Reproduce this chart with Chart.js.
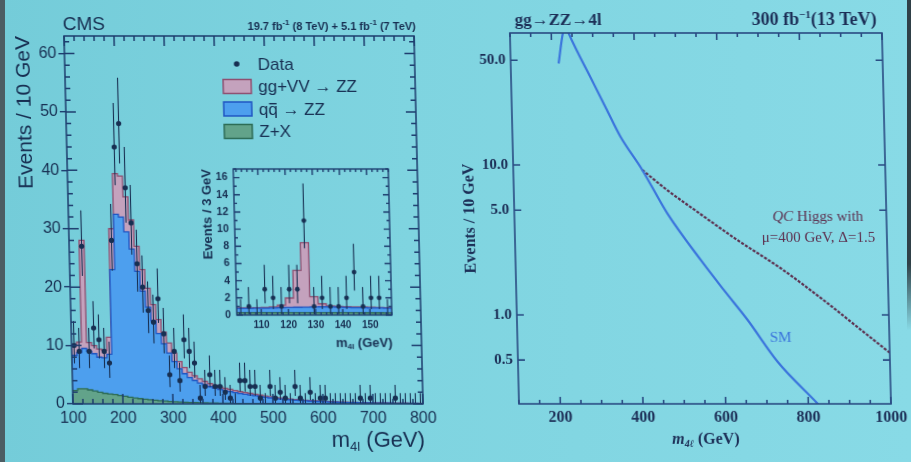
<!DOCTYPE html>
<html>
<head>
<meta charset="utf-8">
<title>Four-lepton mass spectra</title>
<script src="https://cdn.jsdelivr.net/npm/chart.js@4.4.1/dist/chart.umd.min.js"></script>
<style>
  html, body { margin: 0; padding: 0; }
  body {
    width: 911px; height: 462px; overflow: hidden; position: relative;
    background: linear-gradient(90deg, #74ccd9 0%, #7fd4e0 45%, #88dae6 100%);
  }
  /* the slide was photographed slightly sheared */
  #slide { position: absolute; left: 0; top: 0; width: 911px; height: 462px;
    transform: skewX(1.4deg); transform-origin: 0 404px; }
  #slide canvas { position: absolute; }
  .edge { position: absolute; top: 0; }
</style>
</head>
<body>
<div id="slide">
  <canvas id="main" width="450" height="462" style="left:0;top:0"></canvas>
  <canvas id="inset" width="200" height="205" style="left:198px;top:150px"></canvas>
  <canvas id="qc" width="456" height="462" style="left:455px;top:0"></canvas>
</div>
<div class="edge" style="left:0;width:5px;height:462px;background:#4c5d63"></div>
<div class="edge" style="right:0;width:4px;height:330px;background:linear-gradient(#2f4047 80%, rgba(47,64,71,0))"></div>
<script>
// ---------- left plot: CMS m4l, 10 GeV bins from 100 to 800 ----------
const massLo = 100, massHi = 800, massBin = 10;
const zzData = [
  10, 9, 27, 9, 13, 11, 9, 7, 28, 44,
  48, 37, 31, 24, 20, 16, 14, 18, 12, 5,
  9, 4, 11, 9, 7, 1, 3, 5, 3, 3,
  2, 1, 0, 4, 4, 3, 3, 1, 0, 3,
  1, 2, 1, 0, 3, 1, 0, 2, 0, 1,
  1, 0, 0, 0, 0, 0, 0, 1, 0, 1,
  0, 0, 0, 0, 1, 0, 0, 0, 0, 0];
const ggVV = [
  1.9, 1.8, 18.5, 1.5, 1.4, 1.4, 1.3, 2.9, 7.0, 7.0,
  7.0, 6.0, 5.0, 4.3, 3.7, 3.2, 2.8, 2.4, 2.0, 1.7,
  1.45, 1.25, 1.05, 0.9, 0.8, 0.7, 0.62, 0.55, 0.5, 0.45,
  0.4, 0.38, 0.35, 0.32, 0.3, 0.27, 0.25, 0.23, 0.21, 0.19,
  0.17, 0.15, 0.14, 0.13, 0.12, 0.11, 0.1, 0.09, 0.08, 0.08,
  0.07, 0.06, 0.06, 0.05, 0.05, 0.05, 0.04, 0.04, 0.04, 0.03,
  0.03, 0.03, 0.03, 0.03, 0.03, 0.02, 0.02, 0.02, 0.02, 0.02];
const qqZZ = [
  6.0, 6.2, 6.9, 6.6, 6.4, 6.0, 6.1, 6.8, 21.4, 31.0,
  30.7, 28.3, 25.5, 21.8, 18.5, 15.9, 13.6, 11.5, 9.8, 8.3,
  6.9, 5.7, 4.9, 4.25, 3.8, 3.4, 3.1, 2.8, 2.55, 2.33,
  2.15, 2.03, 1.87, 1.71, 1.58, 1.47, 1.34, 1.22, 1.09, 0.98,
  0.89, 0.81, 0.72, 0.66, 0.60, 0.54, 0.49, 0.44, 0.41, 0.37,
  0.34, 0.31, 0.28, 0.26, 0.23, 0.22, 0.21, 0.19, 0.17, 0.16,
  0.15, 0.14, 0.13, 0.12, 0.11, 0.11, 0.10, 0.09, 0.08, 0.07];
const zPlusX = [
  2.3, 2.6, 2.6, 2.4, 2.2, 2.0, 1.8, 1.7, 1.6, 1.45,
  1.3, 1.15, 1.0, 0.9, 0.8, 0.7, 0.62, 0.55, 0.48, 0.42,
  0.37, 0.32, 0.28, 0.25, 0.22, 0.19, 0.17, 0.15, 0.13, 0.12,
  0.1, 0.09, 0.08, 0.07, 0.07, 0.06, 0.06, 0.05, 0.05, 0.05,
  0.04, 0.04, 0.04, 0.03, 0.03, 0.03, 0.03, 0.03, 0.02, 0.02,
  0.02, 0.02, 0.02, 0.02, 0.02, 0.01, 0.01, 0.01, 0.01, 0.01,
  0.01, 0.01, 0.01, 0.01, 0.01, 0.01, 0.01, 0.01, 0.01, 0.01];
const mainXTicks = [100, 200, 300, 400, 500, 600, 700, 800];
const mainYTicks = [0, 10, 20, 30, 40, 50, 60];

// inset: 3 GeV bins around the Higgs peak
const insetLo = 101, insetHi = 158, insetBin = 3;
const insetData = [0, 1, 0, 3, 2, 1, 3, 3, 11, 1, 2, 1, 1, 2, 5, 1, 2, 2, 0];
const insetGG = [0.06, 0.06, 0.06, 0.07, 0.1, 0.3, 1.1, 4.3, 7.5, 1.2, 0.35, 0.12, 0.08, 0.07, 0.07, 0.07, 0.06, 0.06, 0.06];
const insetQQ = [0.5, 0.5, 0.52, 0.53, 0.55, 0.57, 0.6, 0.62, 0.64, 0.66, 0.68, 0.66, 0.64, 0.62, 0.6, 0.6, 0.58, 0.57, 0.56];
const insetZX = [0.28, 0.28, 0.28, 0.28, 0.28, 0.28, 0.28, 0.28, 0.28, 0.28, 0.28, 0.28, 0.27, 0.27, 0.27, 0.26, 0.26, 0.26, 0.25];
const insetXTicks = [110, 120, 130, 140, 150];
const insetYTicks = [0, 2, 4, 6, 8, 10, 12, 14, 16];

// ---------- right plot: gg -> ZZ -> 4l, 300 fb-1 at 13 TeV ----------
const smMass   = [216, 228, 235, 242, 299, 330, 361, 412, 470, 548, 602, 658, 728, 826, 850];
const smEvents = [47.6, 75.6, 85, 75.6, 35.2, 23.3, 15.5, 9.28, 4.76, 2.33, 1.47, 0.926, 0.488, 0.25, 0.21];
const qcMass   = [412, 471, 542, 638, 741, 852, 932, 1000];
const qcEvents = [9.28, 6.81, 4.89, 3.16, 2.05, 1.2, 0.794, 0.56];
const qcXTicks = [200, 400, 600, 800, 1000];
const qcYTicks = [0.5, 1, 5, 10, 50];
const qcNote = { x: 834, y1: 4.5, y2: 3.26 };
const smNote = { x: 737, y: 0.70 };

const NAVY = '#172f52';
const FRAME = '#1d3c6e';
const SANS = '"Liberation Sans", Arial, sans-serif';
const SERIF = '"Liberation Serif", "Times New Roman", serif';
const GG_FILL = '#c4a2bd', GG_LINE = '#8e4f70';
const QQ_FILL = '#4d9fee', QQ_LINE = '#1f55c2';
const ZX_FILL = '#62a38a', ZX_LINE = '#2c6b55';

function lowEdges(start, width, n) {
  const e = [];
  for (let i = 0; i < n; i++) e.push(start + i * width);
  return e;
}
// bin contents -> step points (lower edges + closing edge)
function steps(edges, vals, width) {
  const pts = vals.map((v, i) => ({ x: edges[i], y: v }));
  pts.push({ x: edges[edges.length - 1] + width, y: vals[vals.length - 1] });
  return pts;
}
function histSet(label, vals, edges, width, fill, line, fillTo) {
  return { label, data: steps(edges, vals, width), stepped: 'before', fill: fillTo,
    backgroundColor: fill, borderColor: line, borderWidth: 1.3, pointRadius: 0 };
}
function dataSet(vals, edges, width, r) {
  return { label: 'Data', data: vals.map((v, i) => ({ x: edges[i] + width / 2, y: v })),
    showLine: false, fill: false, stack: 'data', order: -1, errorBars: true,
    pointRadius: c => (c.raw && c.raw.y > 0 ? r : 0), pointBackgroundColor: NAVY,
    pointBorderWidth: 0, borderColor: NAVY };
}

// draw a run of text pieces with their own fonts and offsets
function rich(ctx, parts, x, y, align) {
  let total = 0;
  parts.forEach(p => { ctx.font = p.font; p.w = ctx.measureText(p.t).width; total += p.w; });
  let cx = align === 'right' ? x - total : align === 'center' ? x - total / 2 : x;
  ctx.textAlign = 'left';
  parts.forEach(p => {
    ctx.font = p.font;
    ctx.fillText(p.t, cx, y + (p.dy || 0));
    if (p.bar) ctx.fillRect(cx + 1, y - p.bar, p.w - 2, 1.4);
    cx += p.w;
  });
}

// Poisson-style error bars on the data points
const errorBars = {
  id: 'errorBars',
  beforeDatasetDraw(chart, args) {
    const ds = chart.data.datasets[args.index];
    if (!ds.errorBars) return;
    const { ctx, scales: { y } } = chart;
    ctx.save();
    ctx.strokeStyle = NAVY;
    ctx.lineWidth = 1.1;
    ctx.beginPath();
    args.meta.data.forEach((pt, i) => {
      const n = ds.data[i].y;
      const lo = n > 0 ? n - Math.sqrt(n) + 0.1 : 0;
      const hi = n + 0.84 + Math.sqrt(n + 1);
      ctx.moveTo(pt.x, y.getPixelForValue(lo));
      ctx.lineTo(pt.x, y.getPixelForValue(hi));
    });
    ctx.stroke();
    ctx.restore();
  }
};

// box around the plot with inward tick marks on all sides
function framePlugin(o) {
  return {
    id: 'frame',
    afterDatasetsDraw(chart) {
      const { ctx, chartArea: a, scales: { x, y } } = chart;
      const isMajor = (v, m) => Math.abs(v / m - Math.round(v / m)) < 1e-6;
      ctx.save();
      ctx.strokeStyle = o.color;
      ctx.lineWidth = o.width;
      ctx.beginPath();
      for (let v = Math.ceil(x.min / o.xStep) * o.xStep; v <= x.max + 1e-9; v += o.xStep) {
        const len = isMajor(v, o.xMajor) ? o.majLen : o.minLen;
        const p = x.getPixelForValue(v);
        ctx.moveTo(p, a.bottom); ctx.lineTo(p, a.bottom - len);
        ctx.moveTo(p, a.top); ctx.lineTo(p, a.top + len);
      }
      const yVals = [];
      if (o.yList) o.yList.forEach(v => yVals.push([v, o.majLen]));
      else for (let v = Math.ceil(y.min / o.yStep) * o.yStep; v <= y.max + 1e-9; v += o.yStep)
        yVals.push([v, isMajor(v, o.yMajor) ? o.majLen : o.minLen]);
      yVals.forEach(([v, len]) => {
        const p = y.getPixelForValue(v);
        ctx.moveTo(a.left, p); ctx.lineTo(a.left + len, p);
        ctx.moveTo(a.right, p); ctx.lineTo(a.right - len, p);
      });
      ctx.stroke();
      ctx.strokeRect(a.left, a.top, a.right - a.left, a.bottom - a.top);
      ctx.restore();
    }
  };
}

const fixTicks = list => s => { s.ticks = list.map(v => ({ value: v })); };
const noGrid = { display: false, drawTicks: false };
const baseOpts = { responsive: false, devicePixelRatio: 1, animation: false, events: [],
  plugins: { legend: { display: false }, tooltip: { enabled: false } } };

// ---------- main CMS histogram ----------
const massEdges = lowEdges(massLo, massBin, zzData.length);
const mainText = {
  id: 'mainText',
  afterDraw(chart) {
    const { ctx, chartArea: a } = chart;
    const ds = chart.data.datasets;
    ctx.save();
    ctx.fillStyle = NAVY;
    ctx.textBaseline = 'alphabetic';
    ctx.textAlign = 'left';
    ctx.font = `19px ${SANS}`;
    ctx.fillText('CMS', a.left - 1, a.top - 6);
    const lf = `bold 11px ${SANS}`, sf = `bold 8px ${SANS}`;
    rich(ctx, [
      { t: '19.7 fb', font: lf }, { t: '-1', font: sf, dy: -5 },
      { t: ' (8 TeV) + 5.1 fb', font: lf }, { t: '-1', font: sf, dy: -5 },
      { t: ' (7 TeV)', font: lf }], a.right + 2, a.top - 6, 'right');

    // legend
    const lx = a.left + 158, ly = a.top + 28, f = `17px ${SANS}`;
    ctx.textBaseline = 'middle';
    ctx.beginPath();
    ctx.arc(lx + 14, ly, 2.8, 0, 2 * Math.PI);
    ctx.fill();
    rich(ctx, [{ t: 'Data', font: f }], lx + 35, ly + 1, 'left');
    const rows = [
      [ds[2], [{ t: 'gg+VV → ZZ', font: f }]],
      [ds[1], [{ t: 'q', font: f }, { t: 'q', font: f, bar: 7 }, { t: ' → ZZ', font: f }]],
      [ds[0], [{ t: 'Z+X', font: f }]]];
    rows.forEach(([d, parts], i) => {
      const yy = ly + 22.5 * (i + 1);
      ctx.fillStyle = d.backgroundColor;
      ctx.fillRect(lx, yy - 7, 28, 14);
      ctx.strokeStyle = d.borderColor;
      ctx.lineWidth = 1.5;
      ctx.strokeRect(lx, yy - 7, 28, 14);
      ctx.fillStyle = NAVY;
      rich(ctx, parts, lx + 35, yy + 1, 'left');
    });

    rich(ctx, [{ t: 'm', font: `22px ${SANS}` }, { t: '4l', font: `13px ${SANS}`, dy: 6 },
      { t: ' (GeV)', font: `22px ${SANS}` }], a.right + 1, a.bottom + 37, 'right');
    ctx.restore();
  }
};

new Chart(document.getElementById('main'), {
  type: 'line',
  data: { datasets: [
    histSet('Z+X', zPlusX, massEdges, massBin, ZX_FILL, ZX_LINE, 'origin'),
    histSet('qq̄ → ZZ', qqZZ, massEdges, massBin, QQ_FILL, QQ_LINE, '-1'),
    histSet('gg+VV → ZZ', ggVV, massEdges, massBin, GG_FILL, GG_LINE, '-1'),
    dataSet(zzData, massEdges, massBin, 2.6)
  ] },
  options: Object.assign({}, baseOpts, {
    layout: { padding: { left: 0, right: 27, top: 36, bottom: 0 } },
    scales: {
      x: { type: 'linear', min: massLo, max: massHi,
        afterBuildTicks: fixTicks(mainXTicks), afterFit: s => { s.height = 58; },
        grid: noGrid, border: { display: false },
        ticks: { color: NAVY, font: { family: SANS, size: 16 }, padding: 5, maxRotation: 0, autoSkip: false,
          callback: v => String(v) } },
      y: { stacked: true, min: 0, max: 63,
        afterBuildTicks: fixTicks(mainYTicks), afterFit: s => { s.width = 73; },
        grid: { display: true, drawOnChartArea: false, drawTicks: true, tickLength: 6, color: FRAME, lineWidth: 1.4 },
        border: { display: false },
        ticks: { color: NAVY, font: { family: SANS, size: 16 }, padding: 2 },
        title: { display: true, text: 'Events / 10 GeV', align: 'end', color: NAVY,
          font: { family: SANS, size: 21 }, padding: { top: 20, bottom: 0 } } }
    }
  }),
  plugins: [errorBars, framePlugin({ color: FRAME, width: 1.5, xStep: 20, xMajor: 100,
    yStep: 2, yMajor: 10, minLen: 5, majLen: 10 }), mainText]
});

// ---------- inset around 125 GeV ----------
const insetEdges = lowEdges(insetLo, insetBin, insetData.length);
const insetText = {
  id: 'insetText',
  afterDraw(chart) {
    const { ctx, chartArea: a } = chart;
    ctx.save();
    ctx.fillStyle = NAVY;
    ctx.textBaseline = 'middle';
    rich(ctx, [{ t: 'm', font: `bold 13px ${SANS}` }, { t: '4l', font: `bold 8px ${SANS}`, dy: 4 },
      { t: ' (GeV)', font: `bold 13px ${SANS}` }], a.right, a.bottom + 28, 'right');
    ctx.restore();
  }
};

new Chart(document.getElementById('inset'), {
  type: 'line',
  data: { datasets: [
    histSet('Z+X', insetZX, insetEdges, insetBin, ZX_FILL, ZX_LINE, 'origin'),
    histSet('qq̄ → ZZ', insetQQ, insetEdges, insetBin, QQ_FILL, QQ_LINE, '-1'),
    histSet('gg+VV → ZZ', insetGG, insetEdges, insetBin, GG_FILL, GG_LINE, '-1'),
    dataSet(insetData, insetEdges, insetBin, 2.4)
  ] },
  options: Object.assign({}, baseOpts, {
    layout: { padding: { left: 0, right: 4, top: 19, bottom: 0 } },
    scales: {
      x: { type: 'linear', min: insetLo, max: insetHi,
        afterBuildTicks: fixTicks(insetXTicks), afterFit: s => { s.height = 40; },
        grid: noGrid, border: { display: false },
        ticks: { color: NAVY, font: { family: SANS, size: 10, weight: 'bold' }, padding: 4, maxRotation: 0, autoSkip: false } },
      y: { stacked: true, min: 0, max: 17,
        afterBuildTicks: fixTicks(insetYTicks), afterFit: s => { s.width = 41; },
        grid: noGrid, border: { display: false },
        ticks: { color: NAVY, font: { family: SANS, size: 10.5, weight: 'bold' }, padding: 6, autoSkip: false },
        title: { display: true, text: 'Events / 3 GeV', align: 'end', color: NAVY,
          font: { family: SANS, size: 13, weight: 'bold' }, padding: { top: 7, bottom: 0 } } }
    }
  }),
  plugins: [errorBars, framePlugin({ color: FRAME, width: 1.4, xStep: 2, xMajor: 10,
    yStep: 1, yMajor: 2, minLen: 3, majLen: 6 }), insetText]
});

// ---------- right plot ----------
const SM_BLUE = '#3a74dc', QC_RED = '#5c304f', RNAVY = '#1c2f57';
const qcText = {
  id: 'qcText',
  afterDraw(chart) {
    const { ctx, chartArea: a, scales: { x, y } } = chart;
    ctx.save();
    ctx.fillStyle = RNAVY;
    ctx.textBaseline = 'alphabetic';
    rich(ctx, [{ t: 'gg→ZZ→4l', font: `bold 17px ${SERIF}` }], a.left + 5, a.top - 8, 'left');
    rich(ctx, [{ t: '300 fb', font: `bold 18px ${SERIF}` }, { t: '−1', font: `bold 11px ${SERIF}`, dy: -7 },
      { t: '(13 TeV)', font: `bold 18px ${SERIF}` }], a.right - 5, a.top - 8, 'right');
    ctx.textBaseline = 'middle';
    ctx.fillStyle = QC_RED;
    rich(ctx, [{ t: 'QC', font: `italic 15px ${SERIF}` }, { t: ' Higgs with', font: `15px ${SERIF}` }],
      x.getPixelForValue(qcNote.x), y.getPixelForValue(qcNote.y1), 'center');
    rich(ctx, [{ t: 'μ=400 GeV, Δ=1.5', font: `15px ${SERIF}` }],
      x.getPixelForValue(qcNote.x), y.getPixelForValue(qcNote.y2), 'center');
    ctx.fillStyle = SM_BLUE;
    rich(ctx, [{ t: 'SM', font: `15px ${SERIF}` }], x.getPixelForValue(smNote.x), y.getPixelForValue(smNote.y), 'center');
    ctx.fillStyle = RNAVY;
    rich(ctx, [{ t: 'm', font: `italic bold 16px ${SERIF}` }, { t: '4ℓ', font: `italic bold 10px ${SERIF}`, dy: 4 },
      { t: ' (GeV)', font: `bold 16px ${SERIF}` }], (a.left + a.right) / 2, a.bottom + 36, 'center');
    ctx.restore();
  }
};

new Chart(document.getElementById('qc'), {
  type: 'line',
  data: { datasets: [
    { label: 'SM', data: smMass.map((m, i) => ({ x: m, y: smEvents[i] })),
      borderColor: SM_BLUE, borderWidth: 2.2, pointRadius: 0, fill: false, cubicInterpolationMode: 'monotone' },
    { label: 'QC Higgs with μ=400 GeV, Δ=1.5', data: qcMass.map((m, i) => ({ x: m, y: qcEvents[i] })),
      borderColor: QC_RED, borderWidth: 2.2, borderDash: [3, 1.5], pointRadius: 0, fill: false, cubicInterpolationMode: 'monotone' }
  ] },
  options: Object.assign({}, baseOpts, {
    layout: { padding: { left: 0, right: 20, top: 33, bottom: 0 } },
    scales: {
      x: { type: 'linear', min: 100, max: 1000,
        afterBuildTicks: fixTicks(qcXTicks), afterFit: s => { s.height = 58; },
        grid: noGrid, border: { display: false },
        ticks: { color: RNAVY, font: { family: SERIF, size: 16, weight: 'bold' }, padding: 4, maxRotation: 0, autoSkip: false,
          callback: v => String(v) } },
      y: { type: 'logarithmic', min: 0.255, max: 76,
        afterBuildTicks: fixTicks(qcYTicks), afterFit: s => { s.width = 64; },
        grid: noGrid, border: { display: false },
        ticks: { color: RNAVY, font: { family: SERIF, size: 15, weight: 'bold' }, padding: 5, autoSkip: false,
          callback: v => Number(v).toFixed(1) },
        title: { display: true, text: 'Events / 10 GeV', color: RNAVY,
          font: { family: SERIF, size: 16, weight: 'bold' }, padding: { top: 10, bottom: 0 } } }
    }
  }),
  plugins: [framePlugin({ color: '#284a82', width: 1.6, xStep: 50, xMajor: 200,
    yList: qcYTicks, minLen: 4, majLen: 7 }), qcText]
});
</script>
</body>
</html>
